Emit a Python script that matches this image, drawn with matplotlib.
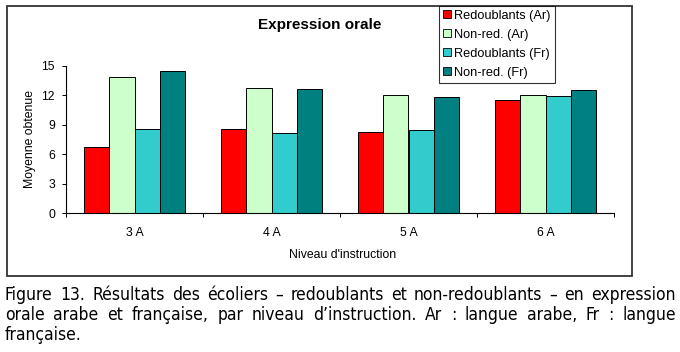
import numpy as np
import matplotlib
matplotlib.use("Agg")
import matplotlib.pyplot as plt
from matplotlib.patches import Rectangle, Patch

# Data
levels = ["3 A", "4 A", "5 A", "6 A"]
series = ["Redoublants (Ar)", "Non-red. (Ar)", "Redoublants (Fr)", "Non-red. (Fr)"]
red_ar = [6.7, 8.6, 8.3, 11.5]
nonred_ar = [13.9, 12.8, 12.0, 12.0]
red_fr = [8.6, 8.2, 8.5, 11.9]
nonred_fr = [14.5, 12.7, 11.8, 12.6]
colors = ["#ff0000", "#ccffcc", "#33cccc", "#008080"]
yticks = [0, 3, 6, 9, 12, 15]

caption = ["Figure 13. Résultats des écoliers – redoublants et non-redoublants – en expression",
           "orale arabe et française, par niveau d’instruction. Ar : langue arabe, Fr : langue",
           "française."]

plt.rcParams['font.family'] = ['Liberation Sans', 'DejaVu Sans']

W, H = 680, 352
fig = plt.figure(figsize=(W / 100, H / 100), dpi=100)

def fx(px):
    return px / W

def fy(py):
    return 1 - py / H

# outer frame of the chart area
fig.patches.append(Rectangle((fx(7), fy(276)), fx(632) - fx(7), fy(6) - fy(276),
                             transform=fig.transFigure, fill=False, ec="#333333", lw=1.3))

ax = fig.add_axes([fx(66), fy(213), fx(614) - fx(66), fy(66) - fy(213)])
x = np.arange(len(levels))
w = 0.1825
for i, vals in enumerate([red_ar, nonred_ar, red_fr, nonred_fr]):
    ax.bar(x + (i - 1.5) * w, vals, w, color=colors[i], edgecolor="black", lw=0.7,
           label=series[i])

ax.set_xlim(-0.5, len(levels) - 0.5)
ax.set_ylim(0, 15)
ax.set_yticks(yticks)
ax.set_xticks(x)
ax.set_xticklabels(levels)
ax.set_xticks(np.arange(len(levels) + 1) - 0.5, minor=True)
ax.tick_params(axis="x", which="major", length=0, pad=10, labelsize=8.8)
ax.tick_params(axis="x", which="minor", length=3, width=0.7, direction="out")
ax.tick_params(axis="y", length=3, width=0.7, direction="out", pad=5, labelsize=8.8)
for s in ["top", "right"]:
    ax.spines[s].set_visible(False)
for s in ["left", "bottom"]:
    ax.spines[s].set_linewidth(0.8)
ax.set_xlabel("Niveau d'instruction", fontsize=8.8)
ax.xaxis.set_label_coords(0.505, -0.245)
ax.set_ylabel("Moyenne obtenue", fontsize=8.8)
ax.yaxis.set_label_coords(-0.054, 0.5)

fig.text(fx(320), fy(25), "Expression orale", ha="center", va="center",
         fontsize=11, fontweight="bold")

handles = [Patch(facecolor=c, edgecolor="black", lw=0.6) for c in colors]
leg = fig.legend(handles, series, loc="upper left",
                 bbox_to_anchor=(fx(439), fy(6)), fontsize=9.2, frameon=True,
                 fancybox=False, borderpad=0.3, labelspacing=0.55,
                 handlelength=0.6, handleheight=0.6, handletextpad=0.3,
                 borderaxespad=0)
leg.get_frame().set_edgecolor("black")
leg.get_frame().set_linewidth(0.8)

# justified caption, font sized so the first line nearly fills the width
renderer = fig.canvas.get_renderer()
x0, x1 = 5, 676
line_y = [295, 315, 335]
probe = fig.text(0, 0, caption[0], fontsize=10, family="DejaVu Sans",
                 fontstretch="condensed")
cap_size = 10 * (x1 - x0) / probe.get_window_extent(renderer).width * 0.965
probe.remove()
cap_font = dict(fontsize=cap_size, family="DejaVu Sans", fontstretch="condensed",
                va="center", ha="left")
for k, line in enumerate(caption):
    words = line.split(" ")
    if k == len(caption) - 1:
        fig.text(fx(x0), fy(line_y[k]), line, **cap_font)
        continue
    texts = [fig.text(0, fy(line_y[k]), wd, **cap_font) for wd in words]
    widths = [t.get_window_extent(renderer).width for t in texts]
    gap = (x1 - x0 - sum(widths)) / (len(words) - 1)
    pos = x0
    for t, wd in zip(texts, widths):
        t.set_x(fx(pos))
        pos += wd + gap

fig.savefig("out.png", dpi=100)
